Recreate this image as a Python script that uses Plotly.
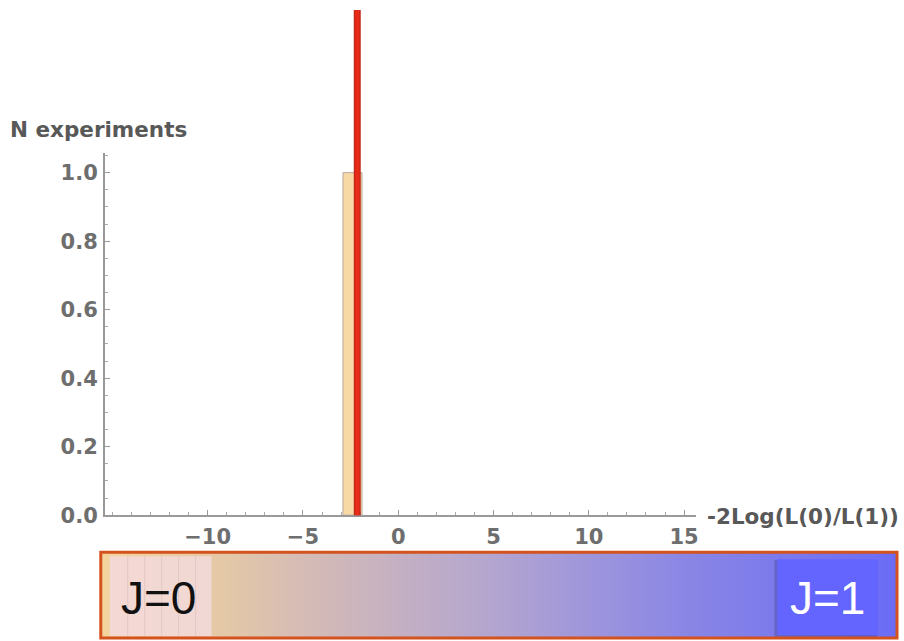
import plotly.graph_objects as go

# ---------------- data ----------------
bin_lefts = [-2.9]          # histogram bin left edges
bin_width = 1.0
counts = [1]                # N experiments in each bin
observed_value = -2.15      # observed -2Log(L(0)/L(1))

x_tickvals = [-10, -5, 0, 5, 10, 15]
y_tickvals = [0.0, 0.2, 0.4, 0.6, 0.8, 1.0]

# colour band (J=0 -> J=1)
band_positions = [0.0, 1.0]
band_colors = [[0.0, "#f4d49c"], [0.14, "#e6caa6"], [0.25, "#d6bcb4"],
               [0.375, "#c4b0c2"], [0.5, "#b2a4d0"], [0.625, "#9c94dc"],
               [0.75, "#8884e6"], [1.0, "#6a6cf6"]]

W, H = 904, 652
REF_H = 641
K = H / REF_H
def px(x):
    return x / W
def py(y):
    return (H - y * K) / H

x_dom = [px(105), px(698)]
y_dom = [py(516), py(153)]

bar_centers = [b + bin_width / 2 for b in bin_lefts]

fig = go.Figure()
fig.add_trace(go.Bar(
    x=bar_centers, y=counts, width=[bin_width] * len(counts),
    marker=dict(color="#f7d9a6", line=dict(color="#b4aaa0", width=1)),
    hoverinfo="skip", showlegend=False, xaxis="x", yaxis="y"))

fig.add_trace(go.Heatmap(
    z=[band_positions], x=band_positions, y=[0.5],
    colorscale=band_colors, zmin=0, zmax=1, zsmooth="best",
    showscale=False, hoverinfo="skip", xaxis="x2", yaxis="y2"))

FONT = "DejaVu Sans, Liberation Sans, Arial"
tickfont = dict(family=FONT, size=21, color="#6e6e6e", weight="bold")

fig.update_layout(
    width=W, height=H,
    margin=dict(l=0, r=0, t=0, b=0),
    paper_bgcolor="white", plot_bgcolor="white",
    xaxis=dict(domain=x_dom, range=[-15.4, 15.65], anchor="y",
               tickvals=x_tickvals, ticks="inside", ticklen=5, tickwidth=1,
               tickcolor="#999", showline=True, linecolor="#999", linewidth=1.5,
               showgrid=False, zeroline=False, tickfont=tickfont,
               minor=dict(ticks="inside", dtick=1, tick0=0, ticklen=3, tickcolor="#aaa"),
               ticklabelstandoff=2),
    yaxis=dict(domain=y_dom, range=[0, 1.058], anchor="x",
               tickvals=y_tickvals, tickformat=".1f", ticks="inside", ticklen=5,
               tickwidth=1, tickcolor="#999", showline=True, linecolor="#999",
               linewidth=1.5, showgrid=False, zeroline=False, tickfont=tickfont,
               minor=dict(ticks="inside", dtick=0.05, tick0=0, ticklen=3, tickcolor="#aaa"),
               ticklabelstandoff=1),
    xaxis2=dict(domain=[px(101), px(899)], range=[0, 1], anchor="y2", visible=False),
    yaxis2=dict(domain=[py(639), py(553)], range=[0, 1], anchor="x2", visible=False),
    showlegend=False,
)

shapes = [
    # observed value line
    dict(type="line", xref="x", yref="paper", x0=observed_value, x1=observed_value,
         y0=y_dom[0], y1=py(10), line=dict(color="#c42a1c", width=7)),
    dict(type="line", xref="x", yref="paper", x0=observed_value, x1=observed_value,
         y0=y_dom[0], y1=py(10), line=dict(color="#e82a16", width=4)),
    # J=0 pink box
    dict(type="rect", xref="paper", yref="paper", x0=px(110), x1=px(212),
         y0=py(637), y1=py(557), fillcolor="rgba(242,216,214,0.95)", line=dict(width=0)),
    # J=1 box shadow + box
    dict(type="rect", xref="paper", yref="paper", x0=px(776), x1=px(879),
         y0=py(639), y1=py(561), fillcolor="rgba(70,60,130,0.35)", line=dict(width=0)),
    dict(type="rect", xref="paper", yref="paper", x0=px(779), x1=px(880),
         y0=py(636), y1=py(560), fillcolor="#6464ff", line=dict(width=0)),
    # border of band
    dict(type="rect", xref="paper", yref="paper", x0=px(101), x1=px(899),
         y0=py(639), y1=py(553), line=dict(color="#d4521e", width=3)),
]
# faint stripes in J=0 box
for sx in [128, 145, 162, 179, 196]:
    shapes.append(dict(type="line", xref="paper", yref="paper", x0=px(sx), x1=px(sx),
                       y0=py(637), y1=py(557), line=dict(color="rgba(215,190,188,0.6)", width=1)))
fig.update_layout(shapes=shapes)

lab_font = dict(family=FONT, size=21.5, color="#585858", weight="bold")
fig.add_annotation(text="N experiments", xref="paper", yref="paper", x=px(8), y=py(130),
                   xanchor="left", yanchor="middle", showarrow=False, font=lab_font)
fig.add_annotation(text="-2Log(L(0)/L(1))", xref="paper", yref="paper", x=px(707), y=py(517),
                   xanchor="left", yanchor="middle", showarrow=False, font=lab_font)
fig.add_annotation(text="J=0", xref="paper", yref="paper", x=px(159), y=py(599),
                   xanchor="center", yanchor="middle", showarrow=False,
                   font=dict(family="Liberation Sans, Arial", size=46, color="#111111"))
fig.add_annotation(text="J=1", xref="paper", yref="paper", x=px(829), y=py(599),
                   xanchor="center", yanchor="middle", showarrow=False,
                   font=dict(family="Liberation Sans, Arial", size=46, color="#ffffff"))

fig.write_html("out.html", config={"displayModeBar": False},
               post_script="document.body.style.margin='0px';document.body.style.overflow='hidden';")
